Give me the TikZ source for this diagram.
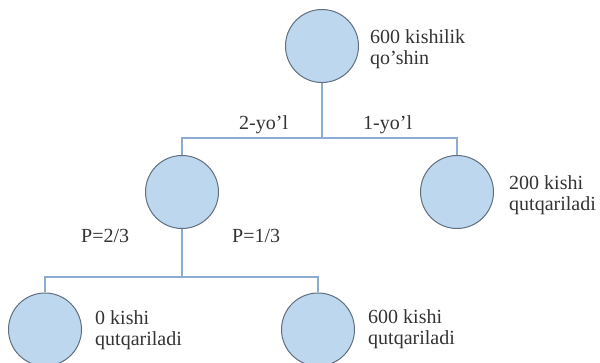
\documentclass[tikz,border=0pt]{standalone}
\usepackage{fontspec}
\setmainfont{Liberation Serif}
\definecolor{circfill}{RGB}{189,215,238}
\definecolor{circdraw}{RGB}{95,110,128}
\definecolor{linkcol}{RGB}{140,172,212}
\begin{document}
\begin{tikzpicture}[x=1pt,y=-1pt,
  state/.style={circle,draw=circdraw,fill=circfill,line width=1pt,minimum size=73pt,inner sep=0pt},
  link/.style={draw=linkcol,line width=1.3pt},
  lbl/.style={anchor=base west,inner sep=0pt,font=\fontsize{20}{21}\selectfont,text=black!80},
  note/.style={anchor=north west,inner sep=0pt,align=left,font=\fontsize{20}{21}\selectfont,text=black!80}]
\useasboundingbox (0,0) rectangle (600,363);
\clip (0,0) rectangle (600,363);
\node[state] (root) at (322,46) {};
\node[state] (a) at (182,192) {};
\node[state] (b) at (457,192) {};
\node[state] (c) at (45,329.5) {};
\node[state] (d) at (318,329.5) {};
\coordinate (j1) at (322,138);
\coordinate (j2) at (182,277);
\draw[link] (root) -- (j1);
\draw[link] (j1) -| (a.north);
\draw[link] (j1) -| (b.north);
\draw[link] (a) -- (j2);
\draw[link] (j2) -| (c.north);
\draw[link] (j2) -| (d.north);
\node[note] (t0) at (370,29) {600 kishilik\\qo’shin};
\node[note] (t1) at (509,175) {200 kishi\\qutqariladi};
\node[note] (t2) at (95,310) {0 kishi\\qutqariladi};
\node[note] (t3) at (368,309) {600 kishi\\qutqariladi};
\node[lbl] (e1) at (239,130) {2-yo’l};
\node[lbl] (e2) at (363,130) {1-yo’l};
\node[lbl] (e3) at (81,243) {P=2/3};
\node[lbl] (e4) at (232,243) {P=1/3};
\end{tikzpicture}
\end{document}
